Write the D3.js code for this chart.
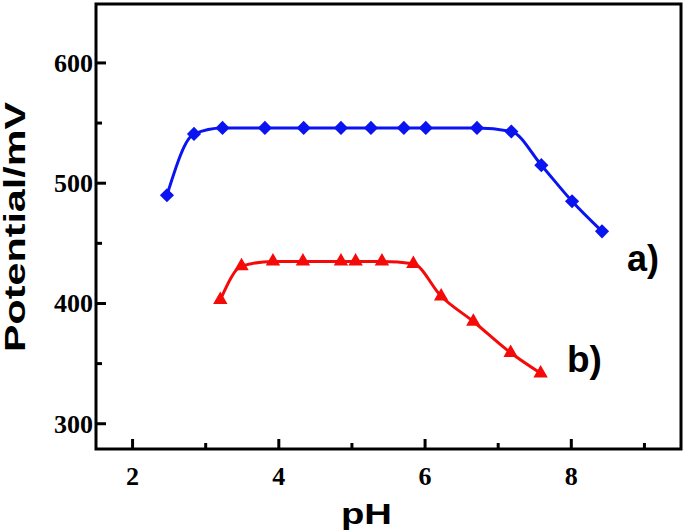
<!DOCTYPE html>
<html><head><meta charset="utf-8">
<script src="https://cdn.jsdelivr.net/npm/d3@7"></script>
<style>body{margin:0;background:#fff}</style>
</head><body>
<svg id="c" width="685" height="532"></svg>
<script>
const phA = [2.47, 2.84, 3.23, 3.81, 4.34, 4.85, 5.26, 5.71, 6.01, 6.71, 7.18, 7.59, 8.01, 8.42];
const mvA = [490, 541, 546, 546, 546, 546, 546, 546, 546, 546, 543, 515, 485, 460];
const phB = [3.2, 3.49, 3.92, 4.33, 4.85, 5.05, 5.41, 5.84, 6.22, 6.66, 7.17, 7.58];
const mvB = [403, 431, 435, 435, 435, 435, 435, 433, 406, 385, 359, 342];
const xMajor = [2, 4, 6, 8];
const xMinor = [3, 5, 7, 9];
const yMajor = [300, 400, 500, 600];
const yMinor = [350, 450, 550];
const seriesLabels = ["a)", "b)"];

const svg = d3.select("#c");
const L = 96, R = 681, T = 4, B = 449;
const x = d3.scaleLinear().domain([1.5, 9.5]).range([L, R]);
const y = d3.scaleLinear().domain([279, 649]).range([B, T]);

svg.append("rect").attr("x", L).attr("y", T).attr("width", R - L).attr("height", B - T)
  .attr("fill", "none").attr("stroke", "#000").attr("stroke-width", 3);

const g = svg.append("g");
g.selectAll(".xt").data(xMajor).join("line")
  .attr("x1", d => x(d)).attr("x2", d => x(d)).attr("y1", B).attr("y2", B - 10)
  .attr("stroke", "#000").attr("stroke-width", 3);
g.selectAll(".xm").data(xMinor).join("line")
  .attr("x1", d => x(d)).attr("x2", d => x(d)).attr("y1", B).attr("y2", B - 6)
  .attr("stroke", "#000").attr("stroke-width", 3);
g.selectAll(".xl").data(xMajor).join("text")
  .attr("x", d => x(d)).attr("y", 485).attr("text-anchor", "middle")
  .attr("font-family", "Liberation Serif, Times New Roman, serif").attr("font-weight", "bold")
  .attr("font-size", 26).text(d => d);
g.selectAll(".yt").data(yMajor).join("line")
  .attr("x1", L).attr("x2", L + 10).attr("y1", d => y(d)).attr("y2", d => y(d))
  .attr("stroke", "#000").attr("stroke-width", 3);
g.selectAll(".ym").data(yMinor).join("line")
  .attr("x1", L).attr("x2", L + 6).attr("y1", d => y(d)).attr("y2", d => y(d))
  .attr("stroke", "#000").attr("stroke-width", 3);
g.selectAll(".yl").data(yMajor).join("text")
  .attr("x", 93).attr("y", d => y(d) + 9).attr("text-anchor", "end")
  .attr("font-family", "Liberation Serif, Times New Roman, serif").attr("font-weight", "bold")
  .attr("font-size", 26).text(d => d);

svg.append("text").attr("x", 341).attr("y", 524)
  .attr("font-family", "Liberation Sans, Arial, sans-serif").attr("font-weight", "bold")
  .attr("font-size", 30).attr("textLength", 51).attr("lengthAdjust", "spacingAndGlyphs").text("pH");
svg.append("text").attr("transform", "translate(25,352) rotate(-90)")
  .attr("font-family", "Liberation Sans, Arial, sans-serif").attr("font-weight", "bold")
  .attr("font-size", 29).attr("textLength", 250).attr("lengthAdjust", "spacingAndGlyphs").text("Potential/mV");

const line = d3.line().x(d => x(d[0])).y(d => y(d[1])).curve(d3.curveMonotoneX);
const dataA = phA.map((p, i) => [p, mvA[i]]);
const dataB = phB.map((p, i) => [p, mvB[i]]);
const blue = "#0a14f0", red = "#f50a0a";

svg.append("path").datum(dataA).attr("d", line).attr("fill", "none").attr("stroke", blue).attr("stroke-width", 3);
svg.append("path").datum(dataB).attr("d", line).attr("fill", "none").attr("stroke", red).attr("stroke-width", 3);

svg.selectAll(".da").data(dataA).join("path")
  .attr("d", d3.symbol(d3.symbolSquare, 100))
  .attr("transform", d => `translate(${x(d[0])},${y(d[1])}) rotate(45)`)
  .attr("fill", blue);
svg.selectAll(".tb").data(dataB).join("path")
  .attr("d", d3.symbol(d3.symbolTriangle, 90))
  .attr("transform", d => `translate(${x(d[0])},${y(d[1])})`)
  .attr("fill", red);

svg.append("text").attr("x", 627).attr("y", 271)
  .attr("font-family", "Liberation Sans, Arial, sans-serif").attr("font-weight", "bold")
  .attr("font-size", 36).text(seriesLabels[0]);
svg.append("text").attr("x", 567).attr("y", 372)
  .attr("font-family", "Liberation Sans, Arial, sans-serif").attr("font-weight", "bold")
  .attr("font-size", 37).text(seriesLabels[1]);
</script>
</body></html>
